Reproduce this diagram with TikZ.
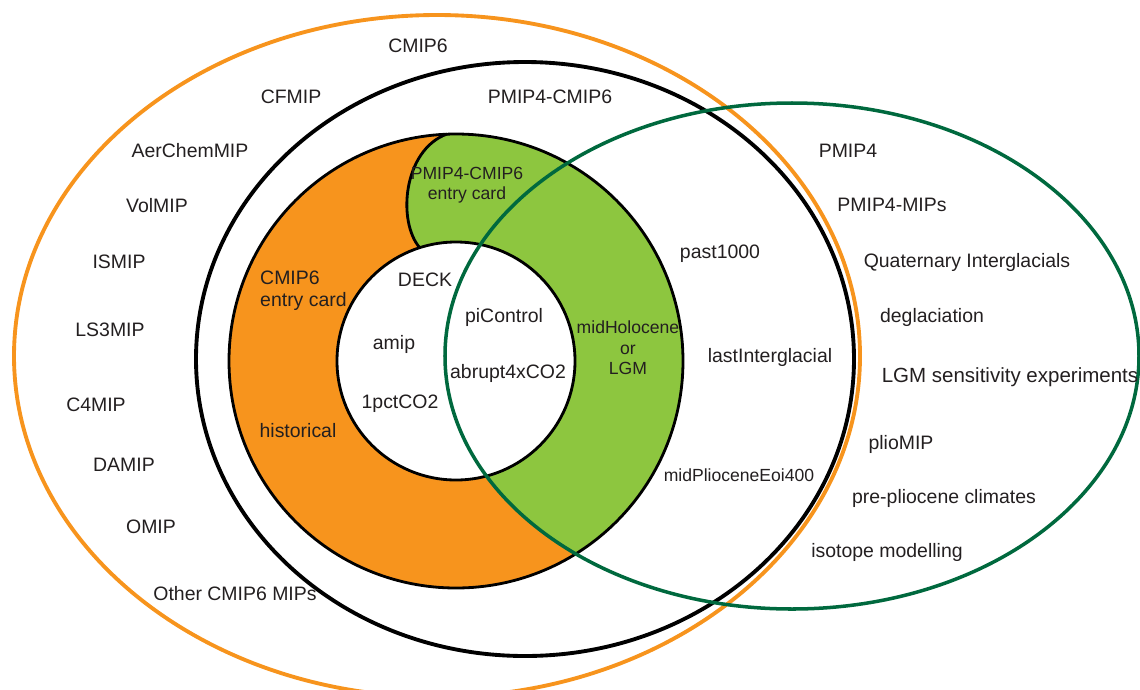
\documentclass[tikz,border=0pt]{standalone}
\usepackage{fontspec}
\setmainfont{Liberation Sans}
\usetikzlibrary{positioning}
\definecolor{cmiporange}{HTML}{F7941D}
\definecolor{pmipgreen}{HTML}{8DC63F}
\definecolor{pmipdark}{HTML}{00693E}
\definecolor{inkgray}{HTML}{231F20}

\begin{document}
\begin{tikzpicture}[x=0.03cm,y=-0.03cm]

          \tikzstyle{lbl} = [text=inkgray, inner sep=0pt, font=\fontsize{16.6}{19}\selectfont]
          \tikzstyle{slbl} = [lbl, font=\fontsize{15}{17.5}\selectfont, align=center]
          \tikzstyle{blbl} = [lbl, font=\fontsize{17.5}{20}\selectfont]
          \tikzstyle{ringline} = [black, line width=2.4pt]

          \useasboundingbox (0,0) rectangle (1140,689);

          \draw[cmiporange, line width=3.3pt] (437,356) ellipse (423 and 341);
          \draw[black, line width=3.3pt] (525,359) ellipse (329 and 297);

          \fill[cmiporange] (456,361) circle (227);
          \begin{scope}
            \clip (456,361) circle (227);
            \fill[pmipgreen] (792,356) ellipse (347 and 253);
            \fill[pmipgreen] (447,120) -- (447,134) .. controls (403,150) and (397,222) .. (420,248)
              -- (425,262) -- (560,262) -- (640,100) -- cycle;
          \end{scope}
          \fill[white] (456,361) circle (119);
          \draw[ringline] (456,361) circle (227);
          \draw[ringline] (456,361) circle (119);
          \draw[ringline] (447,134) .. controls (403,150) and (397,222) .. (420,248);

          \draw[pmipdark, line width=3pt] (792,356) ellipse (347 and 253);

          \node[lbl] (cmip) at (418,46) {CMIP6};
          \node[lbl] (cfmip) at (291,97) {CFMIP};
          \node[lbl] (pmipcmip) at (550,97) {PMIP4-CMIP6};
          \node[lbl] (aerchem) at (190,151) {AerChemMIP};
          \node[lbl] (volmip) at (157,206) {VolMIP};
          \node[lbl] (ismip) at (119,262) {ISMIP};
          \node[lbl] (lsmip) at (110,330) {LS3MIP};
          \node[lbl] (cfourmip) at (96,405) {C4MIP};
          \node[lbl] (damip) at (124,465) {DAMIP};
          \node[lbl] (omip) at (151,527) {OMIP};
          \node[lbl] (othermip) at (235,594) {Other CMIP6 MIPs};

          \node[lbl] (pmip) at (848,151) {PMIP4};
          \node[lbl] (pmipmips) at (892,205) {PMIP4-MIPs};
          \node[lbl] (quat) at (967,262) {Quaternary Interglacials};
          \node[lbl] (degl) at (932,317) {deglaciation};
          \node[blbl] (lgmsens) at (1010,377) {LGM sensitivity experiments};
          \node[lbl] (plio) at (901,444) {plioMIP};
          \node[lbl] (prepl) at (944,498) {pre-pliocene climates};
          \node[lbl] (iso) at (887,552) {isotope modelling};

          \node[lbl] (pastk) at (720,254) {past1000};
          \node[lbl] (lig) at (770,357) {lastInterglacial};
          \node[slbl] (midplio) at (739,475) {midPlioceneEoi400};

          \node[slbl] (pmipcard) at (467,185) {PMIP4-CMIP6\\entry card};
          \node[lbl, align=left, anchor=west] (cmipcard) at (260,291) {CMIP6\\entry card};
          \node[lbl] (hist) at (298,431) {historical};
          \node[slbl] (midholo) at (628,348) {midHolocene\\or\\LGM};

          \node[lbl] (deck) at (425,280) {DECK};
          \node[lbl] (picontrol) at (504,317) {piControl};
          \node[lbl] (amip) at (394,344) {amip};
          \node[lbl] (abrupt) at (508,373) {abrupt4xCO2};
          \node[lbl] (onepct) at (400,404) {1pctCO2};

\end{tikzpicture}
\end{document}
